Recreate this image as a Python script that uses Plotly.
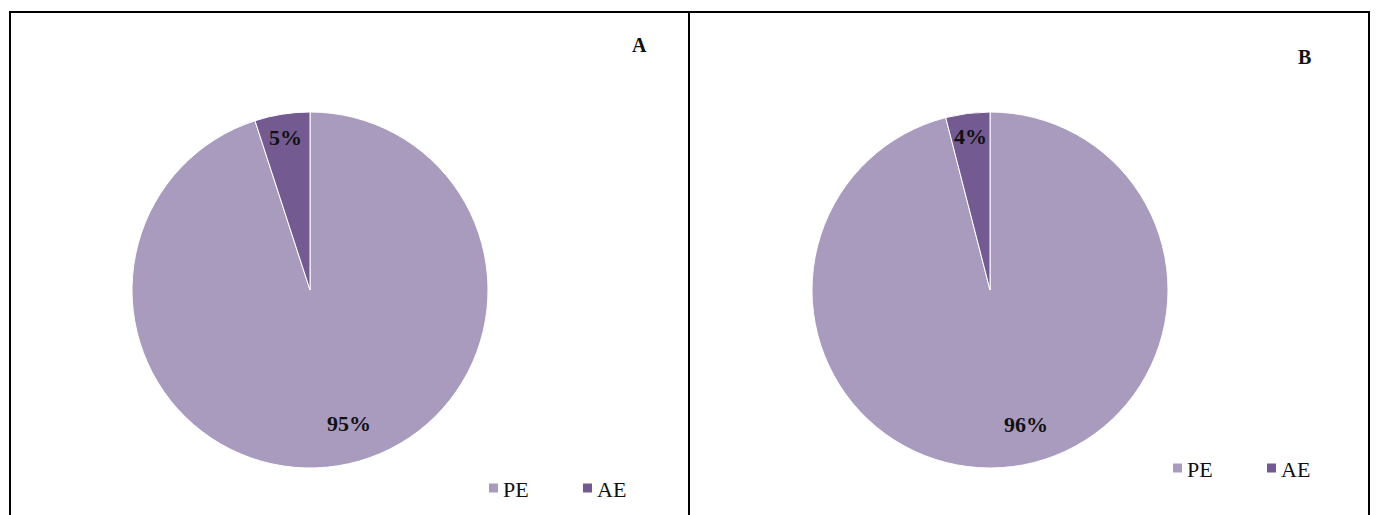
import math
import plotly.graph_objects as go

# Share of PE vs AE in each panel
categories = ["PE", "AE"]
values_a = [95, 5]
values_b = [96, 4]
panel_titles = ["A", "B"]

W, H = 1376, 515
COLORS = ["#A99BBE", "#735A90"]
SERIF = "'Times New Roman', 'Liberation Serif', Times, serif"

# Pie placement (pixels): centre x, centre y, radius
pies = [
    dict(cx=310, cy=290, r=178, values=values_a,
         title_xy=(639, 45), legend_xy=(489, 488), legend_step=94,
         label_polar={"PE": (163.5, 0.78), "AE": (None, 0.87)}),
    dict(cx=990, cy=290, r=178, values=values_b,
         title_xy=(1304, 57), legend_xy=(1173, 468), legend_step=94,
         label_polar={"PE": (165.0, 0.78), "AE": (None, 0.87)}),
]


def px(x):
    return x / W


def py(y):
    return 1 - y / H


fig = go.Figure()
annotations = []
shapes = []

for i, p in enumerate(pies):
    fig.add_trace(go.Pie(
        labels=categories,
        values=p["values"],
        sort=False,
        direction="clockwise",
        rotation=0,
        textinfo="none",
        hoverinfo="label+percent",
        marker=dict(colors=COLORS, line=dict(color="white", width=1)),
        domain=dict(x=[px(p["cx"] - p["r"]), px(p["cx"] + p["r"])],
                    y=[py(p["cy"] + p["r"]), py(p["cy"] - p["r"])]),
        showlegend=False,
    ))

    # Percentage labels placed along each slice
    total = sum(p["values"])
    start = 0.0
    for cat, v in zip(categories, p["values"]):
        span = 360.0 * v / total
        mid = start + span / 2
        ang, frac = p["label_polar"][cat]
        if ang is None:
            ang = mid
        rad = math.radians(ang)
        lx = p["cx"] + frac * p["r"] * math.sin(rad)
        ly = p["cy"] - frac * p["r"] * math.cos(rad)
        annotations.append(dict(
            x=px(lx), y=py(ly), xref="paper", yref="paper",
            text=f"<b>{round(100 * v / total)}%</b>", showarrow=False,
            font=dict(family=SERIF, size=22, color="#111111"),
            xanchor="center", yanchor="middle"))
        start += span

    # Panel letter
    tx, ty = p["title_xy"]
    annotations.append(dict(
        x=px(tx), y=py(ty), xref="paper", yref="paper",
        text=f"<b>{panel_titles[i]}</b>", showarrow=False,
        font=dict(family=SERIF, size=20, color="#111111"),
        xanchor="center", yanchor="middle"))

    # Per-panel legend: colour square followed by category name
    lx0, ly0 = p["legend_xy"]
    sq = 9
    for k, cat in enumerate(categories):
        x0 = lx0 + k * p["legend_step"]
        shapes.append(dict(
            type="rect", xref="paper", yref="paper",
            x0=px(x0), x1=px(x0 + sq),
            y0=py(ly0 + sq / 2), y1=py(ly0 - sq / 2),
            fillcolor=COLORS[k], line=dict(width=0)))
        annotations.append(dict(
            x=px(x0 + sq + 3), y=py(ly0 + 1), xref="paper", yref="paper",
            text=cat, showarrow=False,
            font=dict(family=SERIF, size=22, color="#111111"),
            xanchor="left", yanchor="middle"))

# Panel frames
shapes += [
    dict(type="rect", xref="paper", yref="paper",
         x0=px(10), x1=px(689), y0=py(520), y1=py(12),
         line=dict(color="black", width=2)),
    dict(type="rect", xref="paper", yref="paper",
         x0=px(689), x1=px(1369), y0=py(520), y1=py(12),
         line=dict(color="black", width=2)),
]

fig.update_layout(
    width=W, height=H,
    margin=dict(l=0, r=0, t=0, b=0),
    paper_bgcolor="white", plot_bgcolor="white",
    annotations=annotations,
    shapes=shapes,
    showlegend=False,
)

fig.write_html("out.html")
